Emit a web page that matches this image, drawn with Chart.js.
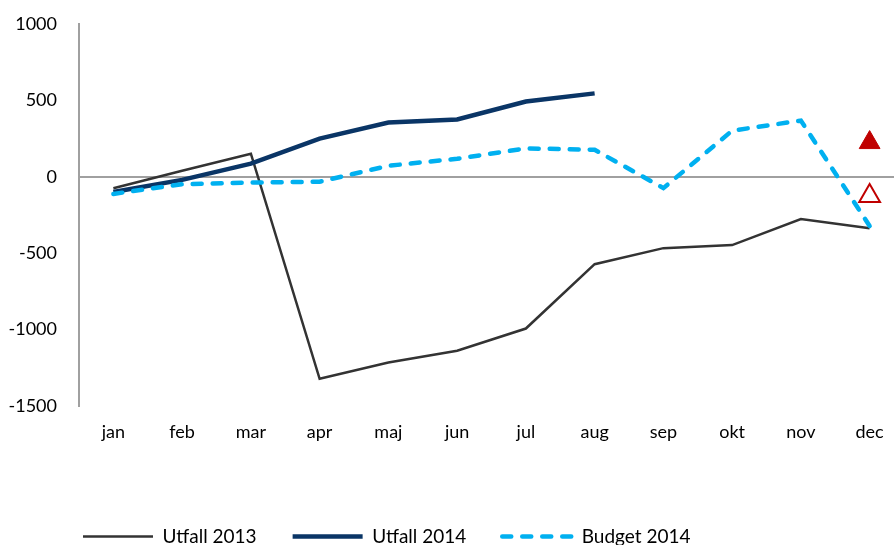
<!DOCTYPE html>
<html>
<head>
<meta charset="utf-8">
<script src="https://cdn.jsdelivr.net/npm/chart.js@4"></script>
<style>
html,body{margin:0;padding:0;background:#fff;overflow:hidden;}
#wrap{width:918px;height:545px;}
</style>
</head>
<body>
<div id="wrap"><canvas id="c" width="918" height="545"></canvas></div>
<script>
const months = ['jan','feb','mar','apr','maj','jun','jul','aug','sep','okt','nov','dec'];
const utfall2013 = [-75, 40, 151, -1322, -1215, -1138, -993, -572, -467, -447, -276, -336];
const utfall2014 = [-99, -20, 86, 250, 355, 375, 493, 546, null, null, null, null];
const budget2014 = [-112, -48, -38, -32, 72, 118, 186, 177, -74, 302, 368, -322];
const markerFilled = [null, null, null, null, null, null, null, null, null, null, null, 224];
const markerHollow = [null, null, null, null, null, null, null, null, null, null, null, -125];
const yTicks = [-1500, -1000, -500, 0, 500, 1000];

const FONT = 'Lato, "Open Sans", sans-serif';

const legendShift = {
  id: 'legendShift',
  afterLayout(chart) {
    const l = chart.legend;
    if (!l) return;
    const w = l.right - l.left;
    l.left = 47; l.right = l.left + w;
    const h = l.bottom - l.top;
    l.top = 491; l.bottom = l.top + h;
  }
};

new Chart(document.getElementById('c'), {
  type: 'line',
  data: {
    labels: months,
    datasets: [
      { label: 'Utfall 2013', data: utfall2013, borderColor: '#333333', backgroundColor: '#333333',
        borderWidth: 2.5, pointRadius: 0, tension: 0, order: 3 },
      { label: 'Utfall 2014', data: utfall2014, borderColor: '#0A3566', backgroundColor: '#0A3566',
        borderWidth: 4.5, pointRadius: 0, tension: 0, order: 2 },
      { label: 'Budget 2014', data: budget2014, borderColor: '#00B0F0', backgroundColor: '#00B0F0',
        borderWidth: 4.5, borderDash: [9, 11], borderCapStyle: 'round', pointRadius: 0, tension: 0, order: 1 },
      { label: 'marker1', data: markerFilled, showLine: false, pointStyle: 'triangle', pointRadius: 12,
        pointBackgroundColor: '#C00000', pointBorderColor: '#C00000', pointBorderWidth: 1, order: 0 },
      { label: 'marker2', data: markerHollow, showLine: false, pointStyle: 'triangle', pointRadius: 12,
        pointBackgroundColor: '#FFFFFF', pointBorderColor: '#C00000', pointBorderWidth: 2, order: 0 }
    ]
  },
  options: {
    responsive: false,
    animation: false,
    layout: { padding: { top: 24, right: 1, left: 0, bottom: 0 } },
    plugins: {
      tooltip: { enabled: false },
      legend: {
        position: 'bottom',
        align: 'start',
        labels: {
          font: { family: FONT, size: 19 },
          color: '#000',
          usePointStyle: true,
          pointStyleWidth: 70,
          boxHeight: 10,
          padding: 36,
          generateLabels(chart) {
            return chart.data.datasets.slice(0, 3).map((ds, i) => ({
              text: ds.label,
              fillStyle: ds.borderColor,
              strokeStyle: ds.borderColor,
              lineWidth: ds.borderWidth,
              lineDash: ds.borderDash || [],
              lineCap: ds.borderCapStyle || 'butt',
              pointStyle: 'line',
              hidden: false,
              datasetIndex: i,
              fontColor: '#000'
            }));
          }
        }
      }
    },
    scales: {
      x: {
        offset: true,
        grid: { display: false, drawTicks: false, offset: true },
        border: { display: false },
        ticks: { font: { family: FONT, size: 18 }, color: '#000', padding: 15, maxRotation: 0 },
        afterFit(s) { s.height = 74; s.paddingLeft = 0; s.paddingRight = 0; }
      },
      y: {
        min: -1500, max: 1000,
        afterBuildTicks(s) { s.ticks = yTicks.map(v => ({ value: v })); },
        grid: {
          drawTicks: false,
          color: ctx => (ctx.tick && ctx.tick.value === 0) ? '#A0A0A0' : 'rgba(0,0,0,0)',
          lineWidth: 2
        },
        border: { display: true, color: '#A0A0A0', width: 2 },
        ticks: { font: { family: FONT, size: 18 }, color: '#000', padding: 22,
                 callback: v => String(v) },
        afterFit(s) { s.width = 79; s.paddingTop = 0; s.paddingBottom = 0; }
      }
    }
  },
  plugins: [legendShift]
});
</script>
</body>
</html>
